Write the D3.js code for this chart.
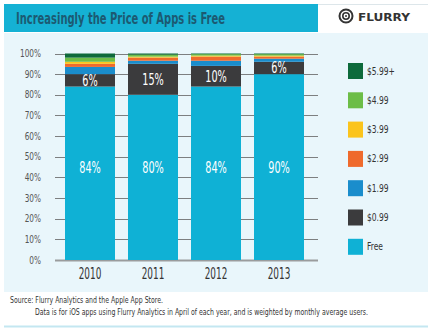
<!DOCTYPE html>
<html>
<head>
<meta charset="utf-8">
<script src="https://cdn.jsdelivr.net/npm/d3@7"></script>
<style>
  body { margin: 0; background: #fff; }
  svg { display: block; }
  text { font-family: "DejaVu Sans Condensed", "Liberation Sans Narrow", "Roboto", sans-serif; }
</style>
</head>
<body>
<svg id="chart" width="432" height="331"></svg>
<script>
// years and price tiers, bottom to top
var years = ['2010', '2011', '2012', '2013'];
var tiers = ['Free', '$0.99', '$1.99', '$2.99', '$3.99', '$4.99', '$5.99+'];
var tierColors = ['#0fb1d5', '#3b3b3d', '#1a8dcc', '#ef6a2c', '#fbc41c', '#6cbd47', '#0d6a3b'];

// share of apps (%) per year
var free    = [84, 80, 84, 90];
var c099    = [6, 15, 10, 6];
var c199    = [3.5, 1.5, 2.5, 1.5];
var c299    = [1.5, 1.5, 2, 1];
var c399    = [1, 0.5, 0.5, 0.5];
var c499    = [2, 1, 0.7, 0.7];
var c599    = [2, 0.5, 0.3, 0.3];

var yTicks = [0, 10, 20, 30, 40, 50, 60, 70, 80, 90, 100];

var rows = years.map(function(y, i) {
  return { year: y, 'Free': free[i], '$0.99': c099[i], '$1.99': c199[i], '$2.99': c299[i],
           '$3.99': c399[i], '$4.99': c499[i], '$5.99+': c599[i] };
});

// the original uses a very narrow face, so squeeze the text sideways
function squeeze(px, py, sx) { return 'translate(' + px + ',' + py + ') scale(' + sx + ',1)'; }

var svg = d3.select('#chart');

// background panels
svg.append('rect').attr('x', 4).attr('y', 33).attr('width', 424).attr('height', 259).style('fill', '#e9f6fb');
svg.append('line').attr('x1', 4).attr('x2', 428).attr('y1', 4.5).attr('y2', 4.5).style('stroke', '#dde6ea');
svg.append('rect').attr('x', 4).attr('y', 4).attr('width', 314).attr('height', 28).style('fill', '#15b1d4');
svg.append('text').attr('x', 16).attr('y', 24).style('font-size', '16px').style('font-weight', 'bold')
  .attr('textLength', 209).attr('lengthAdjust', 'spacingAndGlyphs')
  .style('fill', '#1c5a72').text('Increasingly the Price of Apps is Free');

// flurry logo
var logo = svg.append('g').attr('transform', 'translate(346,16)');
logo.append('circle').attr('r', 6.5).style('fill', 'none').style('stroke', '#333').style('stroke-width', 2);
logo.append('circle').attr('r', 3.2).style('fill', 'none').style('stroke', '#333').style('stroke-width', 1.6);
logo.append('circle').attr('r', 1).style('fill', '#333');
logo.append('text').attr('x', 12).attr('y', 4.5).style('font-family', 'DejaVu Sans, sans-serif')
  .style('font-size', '11px').style('font-weight', 'bold')
  .attr('textLength', 52).attr('lengthAdjust', 'spacingAndGlyphs')
  .style('fill', '#333').text('FLURRY');

var x = d3.scaleBand().domain(years).range([58.5, 310.5]).paddingInner(13 / 63).paddingOuter(6.5 / 63);
var y = d3.scaleLinear().domain([0, 100]).range([260, 53.5]);

// gridlines
svg.append('g').selectAll('line').data(yTicks.slice(1)).enter().append('line')
  .attr('x1', 55).attr('x2', 318)
  .attr('y1', function(d) { return Math.round(y(d)) + 0.5; })
  .attr('y2', function(d) { return Math.round(y(d)) + 0.5; })
  .style('stroke', '#7d7f80').style('stroke-width', 1);
svg.append('line').attr('x1', 55).attr('x2', 318).attr('y1', y(0) + 0.5).attr('y2', y(0) + 0.5)
  .style('stroke', '#9a9c9d').style('stroke-width', 2);

// y tick labels
svg.append('g').selectAll('text').data(yTicks).enter().append('text')
  .attr('transform', function(d) { return squeeze(41, y(d) + 3.5, 0.82); })
  .attr('text-anchor', 'end').style('font-size', '10px').style('fill', '#555')
  .text(function(d) { return d + '%'; });

// stacked bars
var series = d3.stack().keys(tiers)(rows);
var color = d3.scaleOrdinal().domain(tiers).range(tierColors);

svg.append('g').selectAll('g').data(series).enter().append('g')
  .style('fill', function(d) { return color(d.key); })
  .selectAll('rect').data(function(d) { return d; }).enter().append('rect')
  .attr('x', function(d) { return x(d.data.year); })
  .attr('width', x.bandwidth())
  .attr('y', function(d) { return y(d[1]); })
  .attr('height', function(d) { return y(d[0]) - y(d[1]); });

// labels inside bars
svg.append('g').selectAll('text').data(rows).enter().append('text')
  .attr('transform', function(d) { return squeeze(x(d.year) + x.bandwidth() / 2, y(45) + 5.5, 0.72); })
  .attr('text-anchor', 'middle').style('font-size', '15px').style('fill', '#fff')
  .text(function(d) { return d['Free'] + '%'; });

svg.append('g').selectAll('text').data(rows).enter().append('text')
  .attr('transform', function(d) { return squeeze(x(d.year) + x.bandwidth() / 2, y(d['Free'] + d['$0.99'] / 2) + 5.5, 0.72); })
  .attr('text-anchor', 'middle').style('font-size', '15px').style('fill', '#fff')
  .text(function(d) { return d['$0.99'] + '%'; });

// year labels
svg.append('g').selectAll('text').data(years).enter().append('text')
  .attr('transform', function(d) { return squeeze(x(d) + x.bandwidth() / 2, 279, 0.66); })
  .attr('text-anchor', 'middle').style('font-size', '15px').style('fill', '#333')
  .text(function(d) { return d; });

// legend, top tier first
var legend = svg.append('g').selectAll('g').data(tiers.slice().reverse()).enter().append('g')
  .attr('transform', function(d, i) { return 'translate(348,' + (63 + i * 29.3) + ')'; });
legend.append('rect').attr('width', 15).attr('height', 16).style('fill', function(d) { return color(d); });
legend.append('text').attr('transform', squeeze(19, 11.5, 0.8)).style('font-size', '10.5px').style('fill', '#333')
  .text(function(d) { return d; });

// footer
svg.append('text').attr('x', 10).attr('y', 303).style('font-size', '8px').style('fill', '#333')
  .attr('textLength', 153).attr('lengthAdjust', 'spacingAndGlyphs')
  .text('Source: Flurry Analytics and the Apple App Store.');
svg.append('text').attr('x', 35).attr('y', 315).style('font-size', '8px').style('fill', '#333')
  .attr('textLength', 333).attr('lengthAdjust', 'spacingAndGlyphs')
  .text('Data is for iOS apps using Flurry Analytics in April of each year, and is weighted by monthly average users.');
svg.append('line').attr('x1', 4).attr('x2', 428).attr('y1', 326.5).attr('y2', 326.5)
  .style('stroke', '#c4e7f1').style('stroke-width', 2);
</script>
</body>
</html>
